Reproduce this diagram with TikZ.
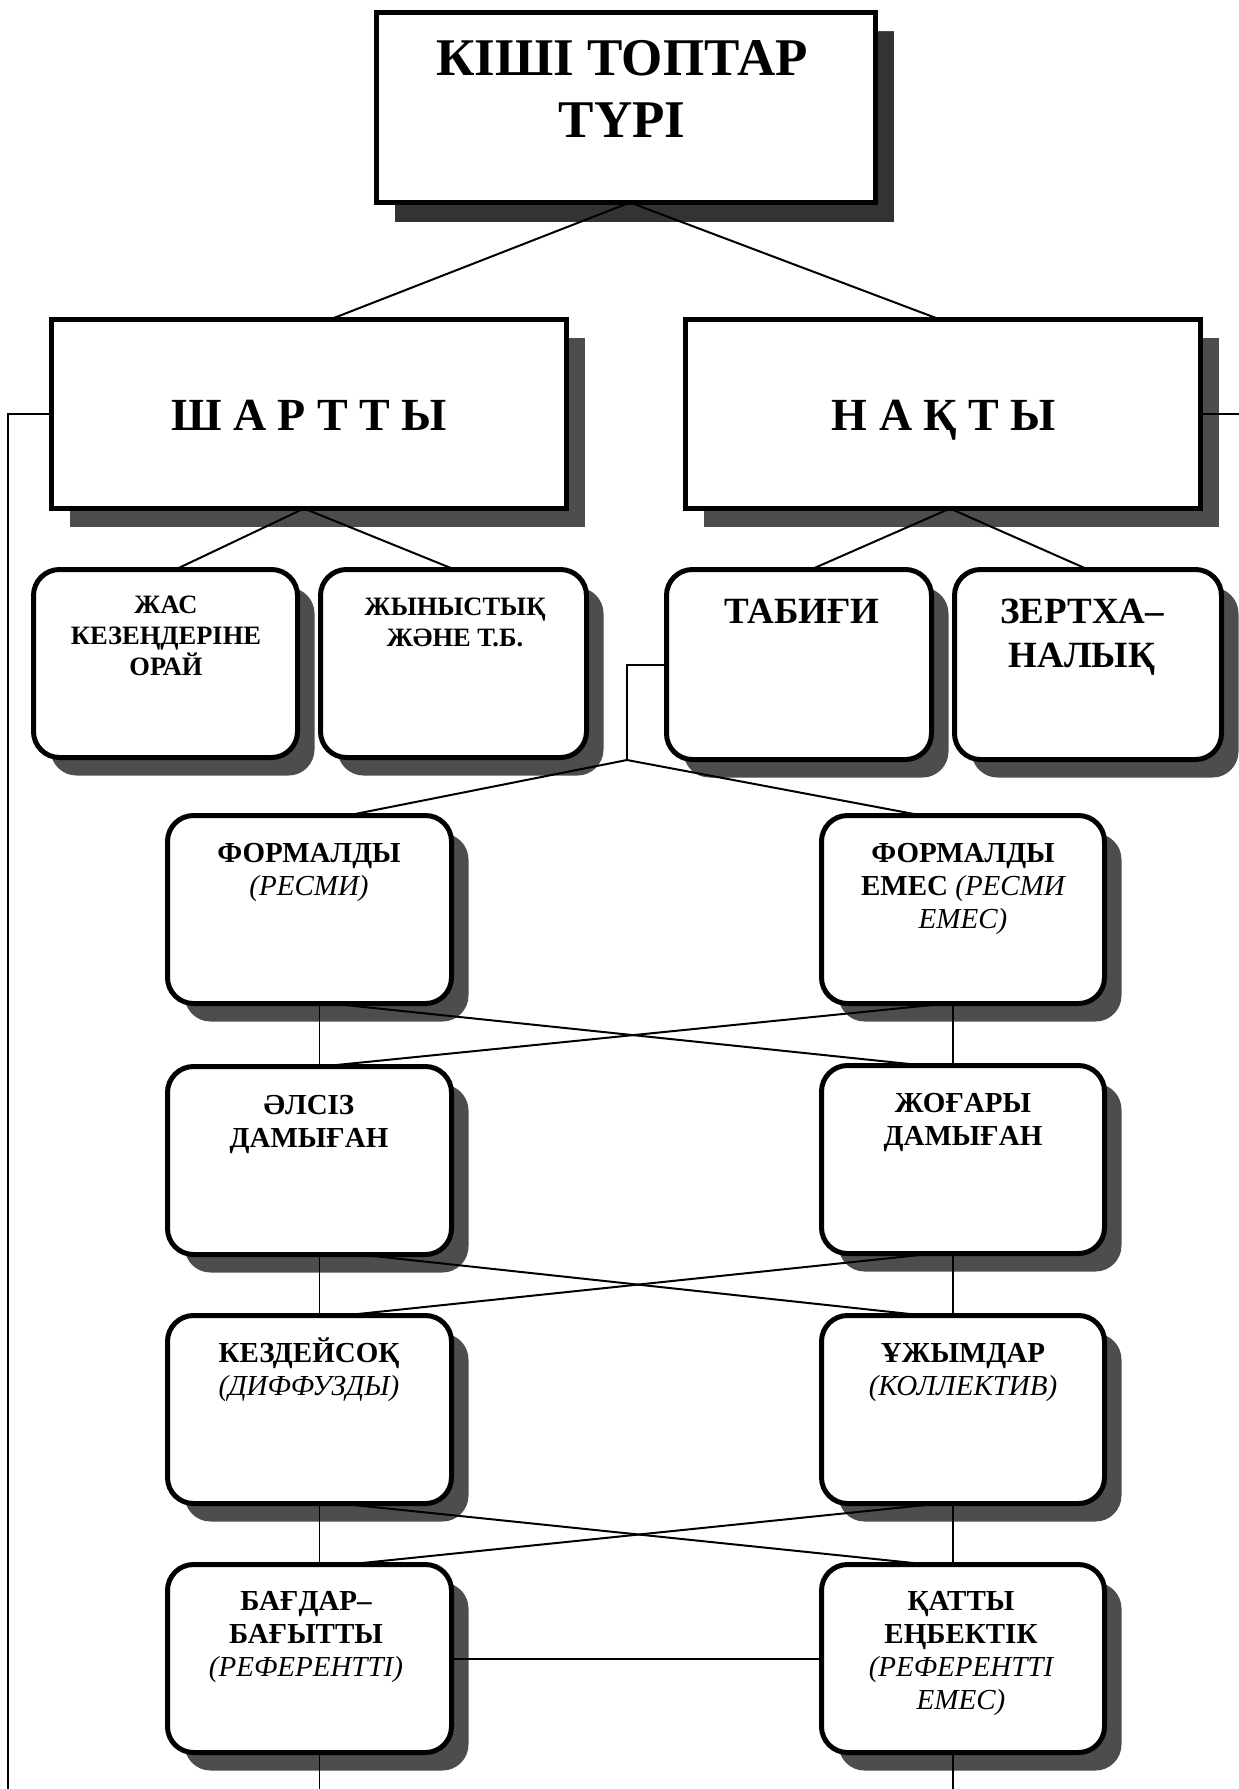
\documentclass[tikz,border=0pt]{standalone}
\usepackage{fontspec}
\setmainfont{Liberation Serif}
\usetikzlibrary{shadows,calc}
\definecolor{shgray}{HTML}{4D4D4D}
\definecolor{shdark}{HTML}{333333}
\newcommand{\mylines}[1]{\begin{tabular}[t]{@{}c@{}}#1\end{tabular}}
\newcommand{\ital}[1]{{\mdseries\itshape #1}}
\tikzset{
  sqbox/.style={draw, line width=5pt, fill=white, anchor=north west, inner sep=0pt, outer sep=0pt,
    drop shadow={shadow xshift=18pt, shadow yshift=-18pt, fill=shgray, opacity=1}},
  rbox/.style={draw, line width=5pt, fill=white, anchor=north west, inner sep=0pt, outer sep=0pt,
    rounded corners=26pt,
    drop shadow={shadow xshift=17pt, shadow yshift=-18pt, fill=shgray, opacity=1}},
  lowbox/.style={rbox, minimum width=284pt, minimum height=188pt},
  conn/.style={line width=2pt},
  vconn/.style={line width=1.3pt},
  txt/.style={anchor=base, inner sep=0pt},
  tbig/.style={txt, font=\fontsize{53}{62}\selectfont\bfseries},
  tmid/.style={txt, font=\fontsize{46}{50}\selectfont\bfseries},
  tsmall/.style={txt, font=\fontsize{26.5}{31}\selectfont\bfseries},
  tnat/.style={txt, font=\fontsize{37}{44}\selectfont\bfseries},
  tlow/.style={txt, font=\fontsize{29}{33}\selectfont\bfseries},
}
\begin{document}
\begin{tikzpicture}[x=1pt,y=-1pt]
\useasboundingbox[fill=white] (0,0) rectangle (1239,1789);

% boxes
\node[sqbox, minimum width=499pt, minimum height=190pt,
  drop shadow={shadow xshift=18pt, shadow yshift=-19pt, fill=shdark, opacity=1}] (top) at (376.5,12.5) {};
\node[sqbox, minimum width=515pt, minimum height=189pt] (shartty) at (51.5,319.5) {};
\node[sqbox, minimum width=515pt, minimum height=189pt] (nakty) at (685.5,319.5) {};

\node[rbox, minimum width=264pt, minimum height=188pt] (zhas) at (33.5,569.5) {};
\node[rbox, minimum width=266pt, minimum height=188pt] (zhyn) at (320.5,569.5) {};
\node[rbox, minimum width=265pt, minimum height=190pt] (tab) at (666.5,569.5) {};
\node[rbox, minimum width=267pt, minimum height=190pt] (zer) at (954.5,569.5) {};

\node[lowbox] (f1) at (167.5,815.5) {};
\node[lowbox, minimum width=283pt] (f2) at (821.5,815.5) {};
\node[lowbox] (w2) at (167.5,1066.5) {};
\node[lowbox, minimum width=283pt] (h2) at (821.5,1065.5) {};
\node[lowbox] (k3) at (167.5,1315.5) {};
\node[lowbox, minimum width=283pt] (u3) at (821.5,1315.5) {};
\node[lowbox] (b4) at (167.5,1564.5) {};
\node[lowbox, minimum width=283pt] (q4) at (821.5,1564.5) {};

% texts
\node[tbig] (ttop) at (622,75) {\mylines{КІШІ ТОПТАР\\ТҮРІ}};
\node[tmid] (tshartty) at (309,430) {Ш А Р Т Т Ы};
\node[tmid] (tnakty) at (944,430) {Н А Қ Т Ы};
\node[tsmall] (tzhas) at (166,613) {\mylines{ЖАС\\КЕЗЕҢДЕРІНЕ\\ОРАЙ}};
\node[tsmall] (tzhyn) at (455,615) {\mylines{ЖЫНЫСТЫҚ\\ЖӘНЕ Т.Б.}};
\node[tnat] (ttab) at (802,623) {ТАБИҒИ};
\node[tnat] (tzer) at (1082,623) {\mylines{ЗЕРТХА–\\НАЛЫҚ}};
\node[tlow] (tf1) at (309,862) {\mylines{ФОРМАЛДЫ\\\ital{(РЕСМИ)}}};
\node[tlow] (tf2) at (963,862) {\mylines{ФОРМАЛДЫ\\ЕМЕС \ital{(РЕСМИ}\\\ital{ЕМЕС)}}};
\node[tlow] (tw2) at (309,1114) {\mylines{ӘЛСІЗ\\ДАМЫҒАН}};
\node[tlow] (th2) at (963,1112) {\mylines{ЖОҒАРЫ\\ДАМЫҒАН}};
\node[tlow] (tk3) at (309,1362) {\mylines{КЕЗДЕЙСОҚ\\\ital{(ДИФФУЗДЫ)}}};
\node[tlow] (tu3) at (963,1362) {\mylines{ҰЖЫМДАР\\\ital{(КОЛЛЕКТИВ)}}};
\node[tlow] (tb4) at (306,1610) {\mylines{БАҒДАР–\\БАҒЫТТЫ\\\ital{(РЕФЕРЕНТТІ)}}};
\node[tlow] (tq4) at (961,1610) {\mylines{ҚАТТЫ\\ЕҢБЕКТІК\\\ital{(РЕФЕРЕНТТІ}\\\ital{ЕМЕС)}}};

% free ends
\coordinate (j) at (627,760);
\coordinate (fl) at (8,1789);
\coordinate (fr) at (1239,412);
\coordinate (endL) at (319.5,1789);
\coordinate (endR) at (953,1789);

% connectors
\draw[conn] ([xshift=4pt]top.south) -- ([xshift=21pt]shartty.north);
\draw[conn] ([xshift=4pt]top.south) -- ([xshift=-3pt]nakty.north);
\draw[conn] ([xshift=-5pt]shartty.south) -- ([xshift=10pt]zhas.north);
\draw[conn] ([xshift=-5pt]shartty.south) -- ([xshift=1pt]zhyn.north);
\draw[conn] ([xshift=7pt]nakty.south) -- ([xshift=12pt]tab.north);
\draw[conn] ([xshift=7pt]nakty.south) -- (zer.north);
\draw[conn] (tab.west) -| (j);
\draw[conn] (j) -- ([xshift=38pt]f1.north);
\draw[conn] (j) -- ([xshift=-41pt]f2.north);

% frame lines
\draw[vconn] (shartty.west) -| (fl);
\draw[vconn] (nakty.east) -- (nakty.east -| fr);

% verticals
\draw[vconn] ([xshift=10pt]f1.south) -- ([xshift=10pt]w2.north);
\draw[vconn] ([xshift=-10pt]f2.south) -- ([xshift=-10pt]h2.north);
\draw[vconn] ([xshift=10pt]w2.south) -- ([xshift=10pt]k3.north);
\draw[vconn] ([xshift=-10pt]h2.south) -- ([xshift=-10pt]u3.north);
\draw[vconn] ([xshift=10pt]k3.south) -- ([xshift=10pt]b4.north);
\draw[vconn] ([xshift=-10pt]u3.south) -- ([xshift=-10pt]q4.north);
\draw[vconn] ([xshift=10pt]b4.south) -- (endL);
\draw[vconn] ([xshift=-10pt]q4.south) -- (endR);

% crosses
\draw[conn] ([xshift=21pt]f1.south) -- ([xshift=-39pt]h2.north);
\draw[conn] ([xshift=-16pt]f2.south) -- ([xshift=12pt]w2.north);
\draw[conn] ([xshift=50pt]w2.south) -- ([xshift=-39pt]u3.north);
\draw[conn] ([xshift=-29pt]h2.south) -- ([xshift=34pt]k3.north);
\draw[conn] ([xshift=30pt]k3.south) -- ([xshift=-35pt]q4.north);
\draw[conn] ([xshift=-23pt]u3.south) -- ([xshift=38pt]b4.north);

% row 4 link
\draw[conn] (b4.east) -- (q4.west);
\end{tikzpicture}
\end{document}
